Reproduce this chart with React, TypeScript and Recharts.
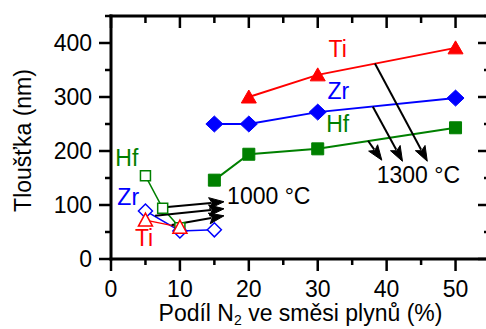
import React from 'react';
import { LineChart, Line, XAxis, YAxis, ReferenceLine, ReferenceDot, Label } from 'recharts';

const FONT = '"Liberation Sans", Arial, Helvetica, sans-serif';
const RED = '#ff0000';
const BLUE = '#0000ff';
const GREEN = '#008000';
const FS = 23;

// 1300 °C series (filled symbols)
const ti1300X = [20, 30, 50];
const ti1300Y = [300, 341, 391];
const zr1300X = [15, 20, 30, 50];
const zr1300Y = [250, 250, 272, 298];
const hf1300X = [15, 20, 30, 50];
const hf1300Y = [146, 194, 204, 243];

// 1000 °C series (open symbols)
const ti1000X = [5, 10];
const ti1000Y = [72, 59];
const zr1000X = [5, 10, 15];
const zr1000Y = [89, 52, 54];
const hf1000X = [5, 7.5, 10];
const hf1000Y = [154, 94, 58];

// axis ticks
const xTicks = [0, 5, 10, 15, 20, 25, 30, 35, 40, 45, 50, 55];
const yTicks = [0, 50, 100, 150, 200, 250, 300, 350, 400, 450];

// annotation arrows [x1, y1, x2, y2] in data units
const arrows1300 = [
  [38.3, 362, 45.9, 181],
  [38.0, 282, 42.3, 181],
  [37.3, 219, 39.3, 183],
];
const arrows1000 = [
  [7.8, 96, 16.4, 106],
  [6.4, 80, 16.4, 93],
  [8.8, 63, 16.4, 80],
];

// annotation texts
const noteTexts = ['Ti', 'Zr', 'Hf', '1300 °C', 'Hf', 'Zr', 'Ti', '1000 °C'];
const noteX = [32.9, 33.0, 32.9, 44.6, 2.3, 2.5, 4.8, 22.9];
const noteY = [389, 311, 250, 156, 187, 115, 39, 117];
const noteColors = [RED, BLUE, GREEN, '#000', GREEN, BLUE, RED, '#000'];

const toPts = (xs: number[], ys: number[]) => xs.map((x, i) => ({ x, y: ys[i] }));

const ti1300 = toPts(ti1300X, ti1300Y);
const zr1300 = toPts(zr1300X, zr1300Y);
const hf1300 = toPts(hf1300X, hf1300Y);
const ti1000 = toPts(ti1000X, ti1000Y);
const zr1000 = toPts(zr1000X, zr1000Y);
const hf1000 = toPts(hf1000X, hf1000Y);

const TICK_W = 2.5;

const LeftTick = (p: any) => {
  const v = p.payload.value;
  const major = v % 100 === 0;
  return (
    <g>
      <line x1={p.x - (major ? 12 : 6)} x2={p.x} y1={p.y} y2={p.y} stroke="#000" strokeWidth={TICK_W} />
      {major && v <= 400 && (
        <text x={p.x - 19} y={p.y} dy="0.36em" textAnchor="end" fontSize={FS} fontFamily={FONT} fill="#000">
          {v}
        </text>
      )}
    </g>
  );
};

const RightTick = (p: any) => {
  const v = p.payload.value;
  const major = v % 100 === 0;
  return <line x1={p.x - (major ? 12 : 6)} x2={p.x} y1={p.y} y2={p.y} stroke="#000" strokeWidth={TICK_W} />;
};

const BottomTick = (p: any) => {
  const v = p.payload.value;
  const major = v % 10 === 0;
  return (
    <g>
      <line x1={p.x} x2={p.x} y1={p.y} y2={p.y + (major ? 12 : 6)} stroke="#000" strokeWidth={TICK_W} />
      {major && v <= 50 && (
        <text x={p.x} y={p.y + 38} textAnchor="middle" fontSize={FS} fontFamily={FONT} fill="#000">
          {v}
        </text>
      )}
    </g>
  );
};

const TopTick = (p: any) => {
  const v = p.payload.value;
  const major = v % 10 === 0;
  return <line x1={p.x} x2={p.x} y1={p.y} y2={p.y + (major ? 12 : 7)} stroke="#000" strokeWidth={TICK_W} />;
};

const mkDot = (kind: string, color: string, filled: boolean) => (p: any) => {
  const { cx, cy } = p;
  if (cx == null || cy == null) return <g key={p.key} />;
  const fill = filled ? color : '#fff';
  const sw = filled ? 1 : 1.5;
  let d = '';
  if (kind === 'tri') {
    const w = filled ? 7.5 : 7;
    d = `M${cx},${cy - 7} L${cx + w},${cy + 6} L${cx - w},${cy + 6} Z`;
  } else if (kind === 'dia') {
    const w = filled ? 8.5 : 7;
    const h = filled ? 8 : 7;
    d = `M${cx},${cy - h} L${cx + w},${cy} L${cx},${cy + h} L${cx - w},${cy} Z`;
  } else {
    const s = filled ? 6 : 5;
    d = `M${cx - s},${cy - s} L${cx + s},${cy - s} L${cx + s},${cy + s} L${cx - s},${cy + s} Z`;
  }
  return <path key={p.key ?? `${cx}-${cy}`} d={d} fill={fill} stroke={color} strokeWidth={sw} strokeLinejoin="miter" />;
};

const ArrowShape = (p: any) => {
  const { x1, y1, x2, y2 } = p;
  if ([x1, y1, x2, y2].some((v) => v == null || isNaN(v))) return <g />;
  const dx = x2 - x1;
  const dy = y2 - y1;
  const len = Math.sqrt(dx * dx + dy * dy) || 1;
  const ux = dx / len;
  const uy = dy / len;
  const hl = 15;
  const hw = 5.5;
  const bx = x2 - ux * hl;
  const by = y2 - uy * hl;
  const px = -uy;
  const py = ux;
  return (
    <g>
      <line x1={x1} y1={y1} x2={bx + ux * 2} y2={by + uy * 2} stroke="#000" strokeWidth={2} />
      <path
        d={`M${x2},${y2} L${bx + px * hw},${by + py * hw} L${bx + ux * 3},${by + uy * 3} L${bx - px * hw},${by - py * hw} Z`}
        fill="#000"
        stroke="#000"
        strokeWidth={1}
      />
    </g>
  );
};

const NoteShape = (text: string, color: string) => (p: any) => (
  <text x={p.cx} y={p.cy} dy="0.36em" textAnchor="middle" fontSize={FS} fontFamily={FONT} fill={color}>
    {text}
  </text>
);

const XTitle = (p: any) => {
  const vb = p.viewBox || { x: 111, y: 259, width: 379, height: 40 };
  const cx = vb.x + vb.width / 2;
  return (
    <text x={cx} y={vb.y + 62} textAnchor="middle" fontSize={FS} fontFamily={FONT} fill="#000">
      <tspan>Podíl N</tspan>
      <tspan fontSize={14} dy={4}>2</tspan>
      <tspan dy={-4}> ve směsi plynů (%)</tspan>
    </text>
  );
};

const YTitle = (p: any) => {
  const vb = p.viewBox || { x: 41, y: 16, width: 70, height: 243 };
  const cx = 23;
  const cy = vb.y + vb.height / 2 + 3;
  return (
    <text
      x={cx}
      y={cy}
      dy="0.36em"
      transform={`rotate(-90, ${cx}, ${cy})`}
      textAnchor="middle"
      fontSize={FS}
      fontFamily={FONT}
      fill="#000"
    >
      Tloušťka (nm)
    </text>
  );
};

const axisLineStyle = { stroke: '#000', strokeWidth: 3, strokeLinecap: 'square' as const };

export default function App() {
  return (
    <div
      style={{
        position: 'absolute',
        left: 0,
        top: 0,
        width: 486,
        height: 329,
        overflow: 'hidden',
        background: '#fff',
      }}
    >
      <LineChart width={500} height={329} margin={{ top: 15, right: 9, bottom: 30, left: 41 }}>
        <XAxis
          xAxisId="b"
          dataKey="x"
          type="number"
          domain={[0, 55]}
          allowDataOverflow
          ticks={xTicks}
          interval={0}
          orientation="bottom"
          height={40}
          tickSize={0}
          tickMargin={0}
          tickLine={false}
          axisLine={axisLineStyle}
          tick={BottomTick}
        >
          <Label content={XTitle} />
        </XAxis>
        <XAxis
          xAxisId="t"
          dataKey="x"
          type="number"
          domain={[0, 55]}
          allowDataOverflow
          ticks={xTicks}
          interval={0}
          orientation="top"
          height={1}
          tickSize={0}
          tickMargin={0}
          tickLine={false}
          axisLine={axisLineStyle}
          tick={TopTick}
        />
        <YAxis
          yAxisId="l"
          type="number"
          domain={[0, 450]}
          allowDataOverflow
          ticks={yTicks}
          interval={0}
          orientation="left"
          width={70}
          tickSize={0}
          tickMargin={0}
          tickLine={false}
          axisLine={axisLineStyle}
          tick={LeftTick}
        >
          <Label content={YTitle} />
        </YAxis>
        <YAxis
          yAxisId="r"
          type="number"
          domain={[0, 450]}
          allowDataOverflow
          ticks={yTicks}
          interval={0}
          orientation="right"
          width={1}
          tickSize={0}
          tickMargin={0}
          tickLine={false}
          axisLine={axisLineStyle}
          tick={RightTick}
        />

        <Line xAxisId="b" yAxisId="l" data={hf1300} dataKey="y" type="linear" stroke={GREEN} strokeWidth={2} dot={mkDot('sq', GREEN, true)} isAnimationActive={false} />
        <Line xAxisId="b" yAxisId="l" data={zr1300} dataKey="y" type="linear" stroke={BLUE} strokeWidth={2} dot={mkDot('dia', BLUE, true)} isAnimationActive={false} />
        <Line xAxisId="b" yAxisId="l" data={ti1300} dataKey="y" type="linear" stroke={RED} strokeWidth={2} dot={mkDot('tri', RED, true)} isAnimationActive={false} />
        <Line xAxisId="b" yAxisId="l" data={hf1000} dataKey="y" type="linear" stroke={GREEN} strokeWidth={1.5} dot={mkDot('sq', GREEN, false)} isAnimationActive={false} />
        <Line xAxisId="b" yAxisId="l" data={zr1000} dataKey="y" type="linear" stroke={BLUE} strokeWidth={1.5} dot={mkDot('dia', BLUE, false)} isAnimationActive={false} />
        <Line xAxisId="b" yAxisId="l" data={ti1000} dataKey="y" type="linear" stroke={RED} strokeWidth={1.5} dot={mkDot('tri', RED, false)} isAnimationActive={false} />

        {[...arrows1300, ...arrows1000].map((a, i) => (
          <ReferenceLine
            key={`arr-${i}`}
            xAxisId="b"
            yAxisId="l"
            segment={[
              { x: a[0], y: a[1] },
              { x: a[2], y: a[3] },
            ]}
            ifOverflow="visible"
            shape={ArrowShape}
          />
        ))}

        {noteTexts.map((t, i) => (
          <ReferenceDot
            key={`note-${i}`}
            xAxisId="b"
            yAxisId="l"
            x={noteX[i]}
            y={noteY[i]}
            r={0}
            ifOverflow="visible"
            shape={NoteShape(t, noteColors[i])}
          />
        ))}
      </LineChart>
    </div>
  );
}
